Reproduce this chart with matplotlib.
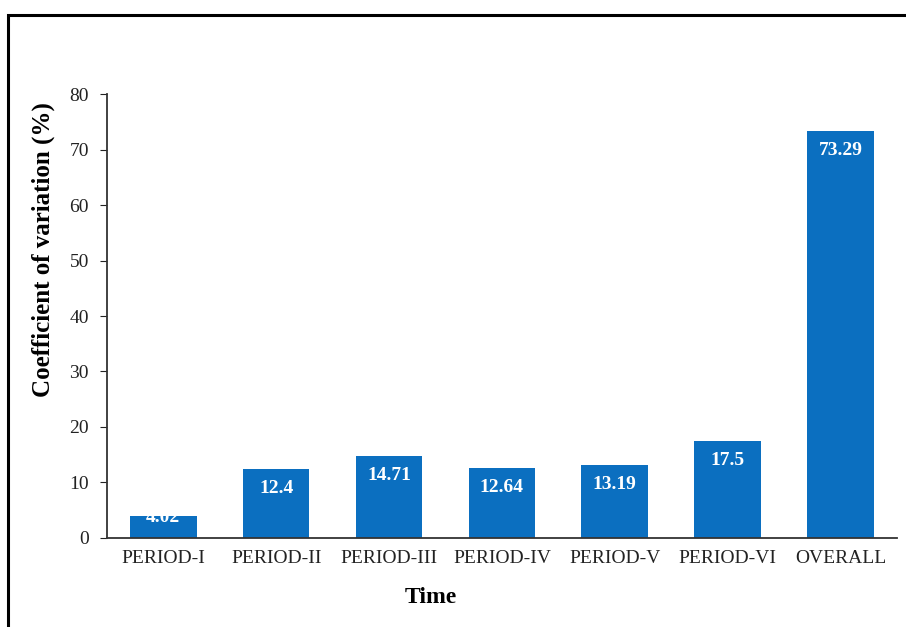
import matplotlib
matplotlib.use("Agg")
import matplotlib.pyplot as plt
from matplotlib.patches import Rectangle

# data
periods = ["PERIOD-I", "PERIOD-II", "PERIOD-III", "PERIOD-IV", "PERIOD-V", "PERIOD-VI", "OVERALL"]
cv_values = [4.02, 12.4, 14.71, 12.64, 13.19, 17.5, 73.29]
value_labels = ["4.02", "12.4", "14.71", "12.64", "13.19", "17.5", "73.29"]

plt.rcParams['font.family'] = ['Liberation Serif', 'DejaVu Serif']

fig = plt.figure(figsize=(9.06, 6.27), dpi=100)
ax = fig.add_axes([0.118, 0.142, 0.872, 0.708])

bar_color = "#0B6FC0"
x = range(len(periods))
bars = ax.bar(x, cv_values, width=0.59, color=bar_color)

for rect, val, lab in zip(bars, cv_values, value_labels):
    cx = rect.get_x() + rect.get_width() / 2
    off = -14 if val > 8 else -1
    ax.annotate(lab, (cx, val), xytext=(0, off), textcoords="offset points",
                ha="center", va="center", color="white", fontsize=14, fontweight="bold")

ax.set_xlim(-0.5, len(periods) - 0.5)
ax.set_ylim(0, 80)
ax.set_yticks(range(0, 81, 10))
ax.set_xticks(list(x))
ax.set_xticklabels(periods, fontsize=14)
ax.tick_params(axis="y", labelsize=14, length=5, direction="out", colors="#222222", pad=8)
ax.tick_params(axis="x", length=0, pad=9, colors="#222222")
for s in ["top", "right"]:
    ax.spines[s].set_visible(False)
for s in ["left", "bottom"]:
    ax.spines[s].set_color("#333333")
    ax.spines[s].set_linewidth(1.3)

ax.set_ylabel("Coefficient of variation (%)", fontsize=18, fontweight="bold")
ax.yaxis.set_label_coords(-0.080, 0.649)
ax.set_xlabel("Time", fontsize=17, fontweight="bold")
ax.xaxis.set_label_coords(0.41, -0.133)
ax.xaxis.label.set_va("center")
ax.yaxis.label.set_va("center")

# outer frame (runs off the right and bottom edges like the reference)
fig.patches.append(Rectangle((8 / 906, -0.05), 1.2, 1 - 15 / 627 + 0.05,
                             transform=fig.transFigure, fill=False,
                             edgecolor="black", linewidth=2.2))

fig.savefig("out.png", dpi=100)
